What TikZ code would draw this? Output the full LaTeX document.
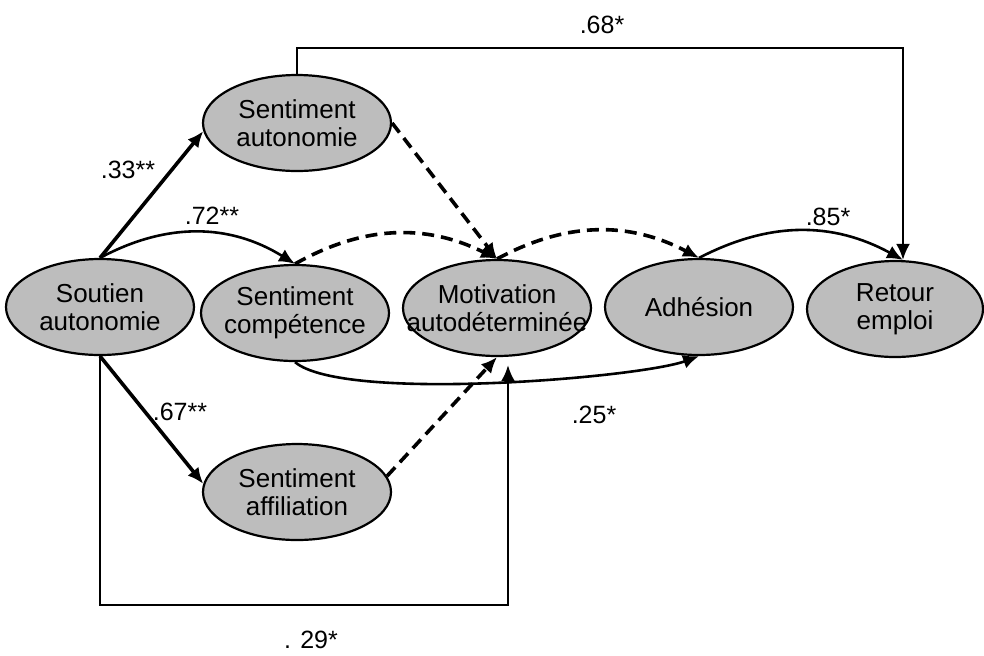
\documentclass[tikz,border=0pt]{standalone}
\usepackage{fontspec}
\setmainfont{Liberation Sans}
\usetikzlibrary{shapes.geometric,arrows.meta}

\begin{document}
\begin{tikzpicture}[x=0.5pt,y=-0.5pt,
  var/.style={ellipse,draw,line width=1.1pt,fill=black!26,minimum width=94pt,minimum height=48pt,inner sep=0pt},
  txt/.style={align=center,inner sep=0pt,font=\fontsize{13}{14}\selectfont},
  coef/.style={inner sep=0pt,font=\fontsize{12.5}{14}\selectfont},
  eff/.style={line width=1.3pt,-{Latex[length=8pt,width=7pt]}},
  ind/.style={eff,line width=1.8pt,dash pattern=on 6pt off 3.5pt}]
  \useasboundingbox (0,0) rectangle (984,655);

  %A: Variables
  \node[var,label={[txt]center:Soutien\\autonomie}] (sout) at (100,307) {};
  \node[var,label={[txt]center:Sentiment\\autonomie}] (sa) at (297,123) {};
  \node[var,label={[txt]center:Sentiment\\compétence}] (comp) at (295,313) {};
  \node[var,label={[txt]center:Sentiment\\affiliation}] (aff) at (297,492) {};
  \node[var,label={[txt]center:Motivation\\autodéterminée}] (mot) at (497,308) {};
  \node[var,label={[txt]center:Adhésion}] (adh) at (699,307) {};
  \node[var,minimum width=88pt,label={[txt]center:Retour\\emploi}] (ret) at (895,309) {};

  %A: Significant paths
  \draw[eff,line width=1.8pt] (sout.north) -- (sa.185);
  \draw[eff] (sout.north) to[bend left=30] (comp.north);
  \draw[eff,line width=1.8pt] (sout.south) -- (aff.175);
  \draw[eff] (sout.south) -- ++(0,249) -| ([xshift=5.5pt,yshift=-4pt]mot.south);
  \draw[eff] (sa.north) -- ++(0,-26) -| ([xshift=4pt]ret.north);
  \draw[eff] (comp.south) to[out=-40,in=200,looseness=0.4] (adh.south);
  \draw[eff] (adh.north) to[bend left=28] ([xshift=4pt]ret.north);

  %A: Non significant paths
  \draw[ind] (sa.east) -- (mot.north);
  \draw[ind] (comp.north) to[bend left=28] (mot.north);
  \draw[ind] (mot.north) to[bend left=28] (adh.north);
  \draw[ind] (aff.10) -- (mot.south);

  %A: Coefficients
  \node[coef] (c68) at (602,25) {.68*};
  \node[coef] (c33) at (128,170) {.33**};
  \node[coef] (c72) at (212,216) {.72**};
  \node[coef] (c85) at (828,217) {.85*};
  \node[coef] (c67) at (180,412) {.67**};
  \node[coef] (c25) at (594,415) {.25*};
  \node[coef] (c29) at (311,640) {. 29*};
\end{tikzpicture}
\end{document}
